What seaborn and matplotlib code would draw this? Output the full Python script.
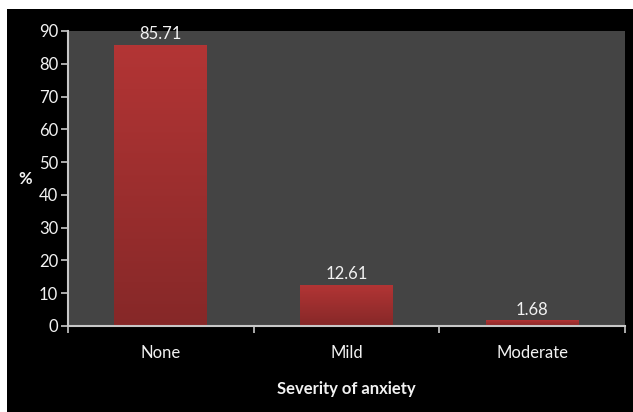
import matplotlib
matplotlib.use("Agg")
import matplotlib.pyplot as plt
import seaborn as sns
import numpy as np
import pandas as pd
from matplotlib.patches import Rectangle
from matplotlib.colors import LinearSegmentedColormap

categories = ["None", "Mild", "Moderate"]
values = [85.71, 12.61, 1.68]
value_labels = ["85.71", "12.61", "1.68"]
yticks = [0, 10, 20, 30, 40, 50, 60, 70, 80, 90]

sns.set_theme(style="dark")
plt.rcParams['font.family'] = ['Lato', 'DejaVu Sans']

df = pd.DataFrame({"cat": categories, "val": values})

fig = plt.figure(figsize=(6.33, 4.12), dpi=100, facecolor="white")
fig.patches.append(Rectangle((7/633, 0), 1, 1 - 9/412, transform=fig.transFigure,
                             facecolor="black", edgecolor="none", zorder=-10))
ax = fig.add_axes([68/633, 1 - 326/412, (625-68)/633, (326-31)/412])
ax.set_zorder(5)
ax.set_facecolor("#444444")

sns.barplot(data=df, x="cat", y="val", ax=ax, color="#a53030", width=0.5,
            saturation=1, edgecolor="none")

# gradient fill for each bar
grad = np.linspace(0, 1, 256).reshape(-1, 1)
cmap = LinearSegmentedColormap.from_list("g", ["#b33535", "#862828"])
for p in list(ax.patches):
    x0, y0 = p.get_x(), p.get_y()
    w, h = p.get_width(), p.get_height()
    im = ax.imshow(grad, cmap=cmap, aspect="auto", extent=[x0, x0 + w, y0, y0 + h],
                   origin="upper", zorder=p.get_zorder() + 0.1)
    im.set_clip_path(p)

for i, (v, lab) in enumerate(zip(values, value_labels)):
    ax.annotate(lab, (i, v), xytext=(0, 2), textcoords="offset points",
                ha="center", va="bottom", color="#f2f2f2", fontsize=12)

ax.set_xlim(-0.5, 2.5)
ax.set_ylim(0, 90)
ax.set_yticks(yticks)
ax.set_yticklabels([str(t) for t in yticks])

ax.set_xticks([0, 1, 2])
ax.set_xticklabels(categories)
ax.set_xticks([-0.5, 0.5, 1.5, 2.5], minor=True)
ax.tick_params(axis="x", which="major", length=0, pad=14, colors="#f2f2f2", labelsize=12)
ax.tick_params(axis="x", which="minor", length=5, width=1.2, color="#c8c8c8", direction="out", bottom=True)
ax.tick_params(axis="y", length=5, width=1.2, color="#c8c8c8", direction="out",
               labelcolor="#f2f2f2", labelsize=12, pad=2, left=True)

for s in ["top", "right"]:
    ax.spines[s].set_visible(False)
for s in ["left", "bottom"]:
    ax.spines[s].set_visible(True)
    ax.spines[s].set_color("#c8c8c8")
    ax.spines[s].set_linewidth(1.5)
ax.grid(False)

ax.set_xlabel("Severity of anxiety", color="#f2f2f2", fontsize=12, fontweight="bold", labelpad=14)
ax.set_ylabel("%", color="#f2f2f2", fontsize=12, fontweight="bold", rotation=0, labelpad=10, va="center")

fig.savefig("out.png", dpi=100, facecolor=fig.get_facecolor())
